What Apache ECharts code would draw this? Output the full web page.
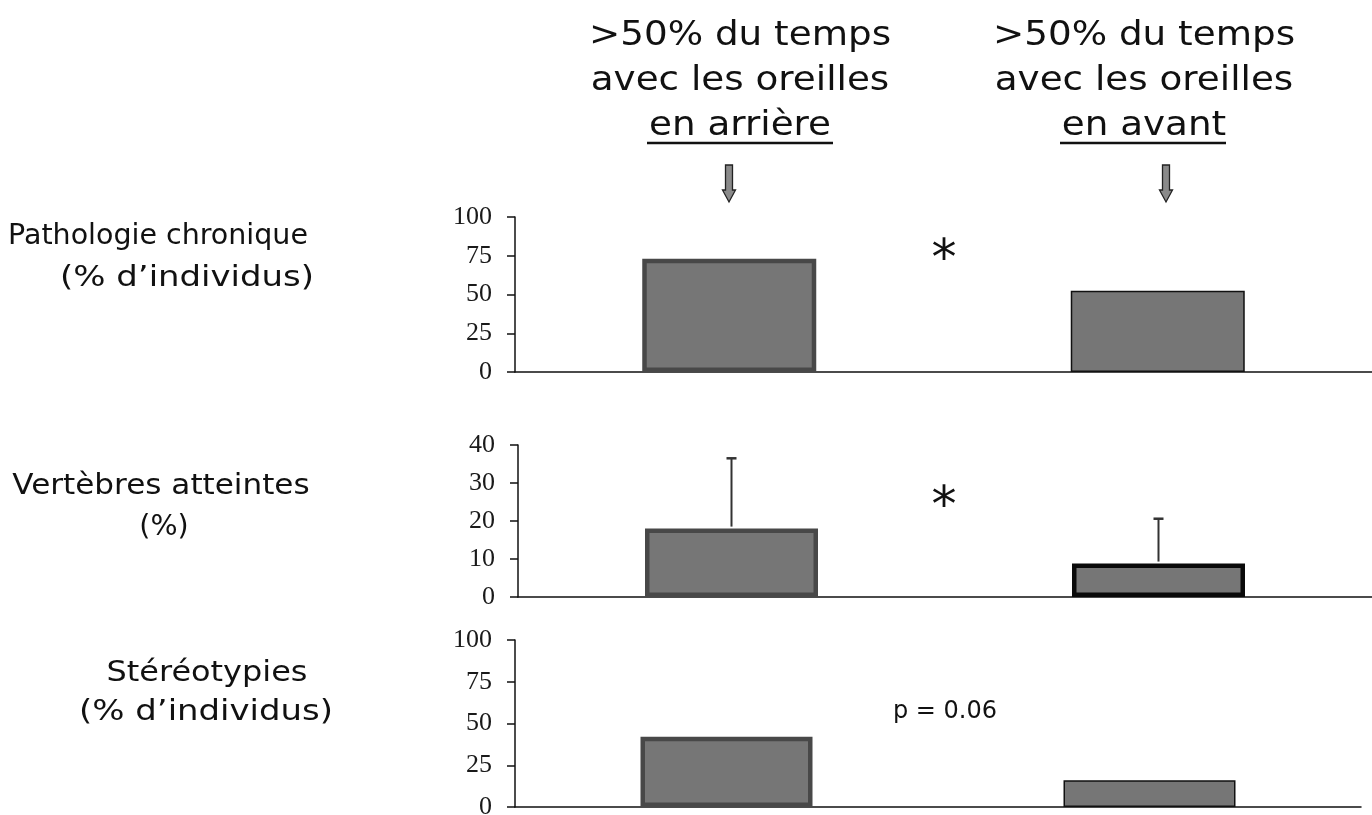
<!DOCTYPE html>
<html>
<head>
<meta charset="utf-8">
<script src="https://cdn.jsdelivr.net/npm/echarts@6/dist/echarts.min.js"></script>
<style>
  html, body { margin: 0; padding: 0; background: #fff; }
  #chart { width: 1372px; height: 815px; }
</style>
</head>
<body>
<div id="chart"></div>
<script>
// ---- data ----
const categories = ['>50% du temps avec les oreilles en arrière', '>50% du temps avec les oreilles en avant'];
const pathologieChronique = [73, 52.5];      // % d'individus
const vertebresAtteintes = [18, 8.8];        // %
const vertebresErreurHaute = [36.5, 20.6];   // upper error bar value
const stereotypies = [42, 16];               // % d'individus
const pathologieTicks = [0, 25, 50, 75, 100];
const vertebresTicks = [0, 10, 20, 30, 40];
const stereotypiesTicks = [0, 25, 50, 75, 100];

const headerLeft = ['>50% du temps', 'avec les oreilles', 'en arrière'];
const headerRight = ['>50% du temps', 'avec les oreilles', 'en avant'];
const rowLabels = [
  ['Pathologie chronique', '(% d\u2019individus)'],
  ['Vertèbres atteintes', '(%)'],
  ['Stéréotypies', '(% d\u2019individus)']
];
const signif = ['*', '*', 'p = 0.06'];

// ---- styles ----
const FILL = '#767676';
const barStyles = [
  [{ borderColor: '#484848', borderWidth: 4.5 }, { borderColor: '#111', borderWidth: 1.5 }],
  [{ borderColor: '#484848', borderWidth: 4.5 }, { borderColor: '#0a0a0a', borderWidth: 4.5 }],
  [{ borderColor: '#484848', borderWidth: 4.5 }, { borderColor: '#111', borderWidth: 1.5 }]
];

const chart = echarts.init(document.getElementById('chart'), null, { renderer: 'canvas' });

function xAx(i) {
  return {
    type: 'category', gridIndex: i, data: categories,
    axisLabel: { show: false }, axisTick: { show: false },
    axisLine: { lineStyle: { color: '#111', width: 1.5 } }
  };
}
function yAx(i, ticks) {
  return {
    type: 'value', gridIndex: i,
    min: ticks[0], max: ticks[ticks.length - 1], interval: ticks[1] - ticks[0],
    axisLine: { show: true, lineStyle: { color: '#111', width: 1.5 } },
    axisTick: { show: true, length: 8, lineStyle: { color: '#111', width: 1.5 } },
    splitLine: { show: false },
    axisLabel: { fontFamily: 'Liberation Serif', fontSize: 26, color: '#1a1a1a', margin: 23 }
  };
}
function barData(values, i) {
  return values.map((v, k) => ({ value: v, itemStyle: Object.assign({ color: FILL }, barStyles[i][k]) }));
}

const graphics = [];
function addText(text, x, y, size, opts) {
  graphics.push(Object.assign({
    type: 'text', x: x, y: y, z: 10,
    style: { text: text, x: 0, y: 0, align: 'center', verticalAlign: 'middle',
             font: size + 'px "DejaVu Sans"', fill: '#111' }
  }, opts || {}));
}
// headers
const hdrY = [36, 81, 126];
headerLeft.forEach((t, i) => addText(t, 740, hdrY[i], 33, { scaleX: 1.13 }));
headerRight.forEach((t, i) => addText(t, 1144, hdrY[i], 33, { scaleX: 1.13 }));
graphics.push({ type: 'line', shape: { x1: 647, y1: 143, x2: 833, y2: 143 }, style: { stroke: '#111', lineWidth: 2.5 } });
graphics.push({ type: 'line', shape: { x1: 1060, y1: 143, x2: 1226, y2: 143 }, style: { stroke: '#111', lineWidth: 2.5 } });
// arrows
function arrow(cx) {
  const top = 165, neck = 190, tip = 202, sw = 3.5, hw = 6.5;
  graphics.push({
    type: 'polygon',
    shape: { points: [[cx - sw, top], [cx + sw, top], [cx + sw, neck], [cx + hw, neck], [cx, tip], [cx - hw, neck], [cx - sw, neck]] },
    style: { fill: '#8a8a8a', stroke: '#222', lineWidth: 1.3 }
  });
}
arrow(729); arrow(1166);
// row labels
addText(rowLabels[0][0], 158, 237, 28.5);
addText(rowLabels[0][1], 187, 279, 28.5, { scaleX: 1.19 });
addText(rowLabels[1][0], 161, 487, 28.5, { scaleX: 1.09 });
addText(rowLabels[1][1], 164, 528, 28.5);
addText(rowLabels[2][0], 207, 674, 28.5, { scaleX: 1.12 });
addText(rowLabels[2][1], 206, 713, 28.5, { scaleX: 1.19 });
// significance
addText(signif[0], 944, 261, 50);
addText(signif[1], 944, 508, 50);
addText(signif[2], 945, 712, 24);

const option = {
  animation: false,
  backgroundColor: '#fff',
  grid: [
    { left: 515, top: 217, width: 857, height: 155, containLabel: false, outerBoundsMode: 'none' },
    { left: 518, top: 445, width: 854, height: 152, containLabel: false, outerBoundsMode: 'none' },
    { left: 515, top: 640, width: 846, height: 167, containLabel: false, outerBoundsMode: 'none' }
  ],
  xAxis: [xAx(0), xAx(1), xAx(2)],
  yAxis: [yAx(0, pathologieTicks), yAx(1, vertebresTicks), yAx(2, stereotypiesTicks)],
  series: [
    { type: 'bar', xAxisIndex: 0, yAxisIndex: 0, barWidth: 174, data: barData(pathologieChronique, 0) },
    { type: 'bar', xAxisIndex: 1, yAxisIndex: 1, barWidth: 173, data: barData(vertebresAtteintes, 1) },
    { type: 'bar', xAxisIndex: 2, yAxisIndex: 2, barWidth: 172, data: barData(stereotypies, 2) },
    {
      type: 'custom', xAxisIndex: 1, yAxisIndex: 1, z: 5,
      data: vertebresAtteintes.map((v, k) => [k, v, vertebresErreurHaute[k]]),
      renderItem: function (params, api) {
        const b = api.coord([api.value(0), api.value(1)]);
        const t = api.coord([api.value(0), api.value(2)]);
        return {
          type: 'group',
          children: [
            { type: 'line', shape: { x1: b[0], y1: b[1] - 2, x2: t[0], y2: t[1] }, style: { stroke: '#333', lineWidth: 2 } },
            { type: 'line', shape: { x1: t[0] - 5, y1: t[1], x2: t[0] + 5, y2: t[1] }, style: { stroke: '#333', lineWidth: 2.5 } }
          ]
        };
      }
    }
  ],
  graphic: graphics
};
chart.setOption(option);
</script>
</body>
</html>
